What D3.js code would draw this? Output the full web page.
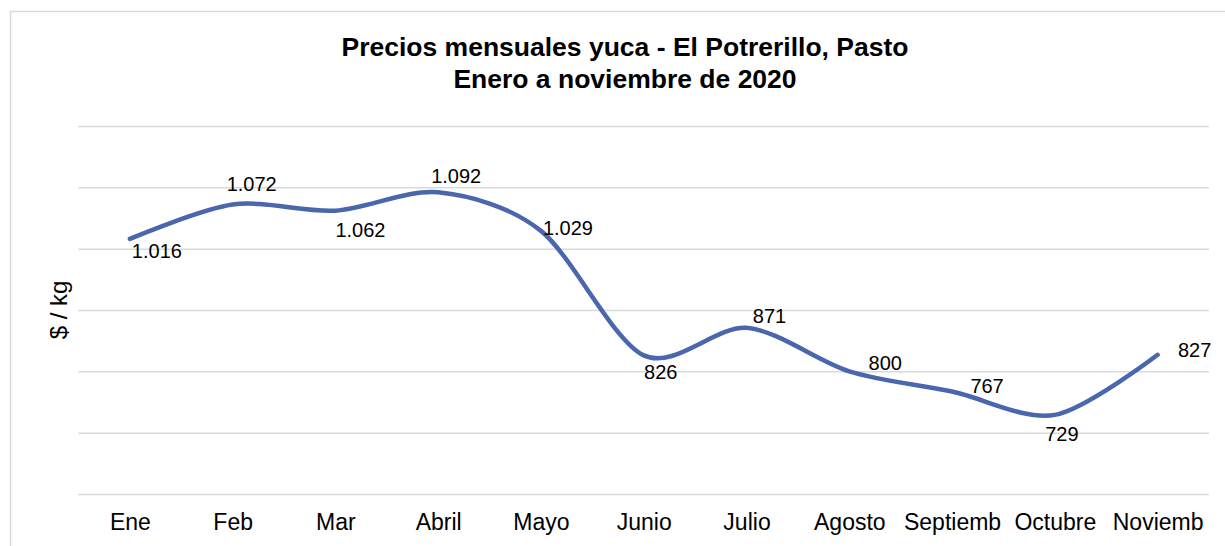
<!DOCTYPE html>
<html>
<head>
<meta charset="utf-8">
<script src="https://cdn.jsdelivr.net/npm/d3@7"></script>
<style>
  body { margin: 0; background: #fff; }
  svg { display: block; font-family: "Liberation Sans", Arial, sans-serif; }
</style>
</head>
<body>
<svg id="chart" width="1225" height="546"></svg>
<script>
// Data
const months = ["Ene", "Feb", "Mar", "Abril", "Mayo", "Junio", "Julio", "Agosto", "Septiemb", "Octubre", "Noviemb"];
const prices = [1016, 1072, 1062, 1092, 1029, 826, 871, 800, 767, 729, 827];
const yTicks = [600, 700, 800, 900, 1000, 1100, 1200];
const titleLines = ["Precios mensuales yuca - El Potrerillo, Pasto", "Enero a noviembre de 2020"];

// label nudges (px) relative to each point, as placed in the original
const labelOffsets = [
  [27, 19], [19, -14], [25, 26], [18, -9], [27, 4],
  [17, 24], [23, -5], [36, -1], [35, 1], [7, 26], [37, 2]
];

const margin = { top: 126, right: 16, bottom: 52, left: 78.5 };
const W = 1225, H = 546;
const w = W - margin.left - margin.right;
const h = 494 - margin.top;

const svg = d3.select("#chart");

// outer chart frame
svg.append("rect")
  .attr("x", 10.5).attr("y", 11.5)
  .attr("width", 1240).attr("height", 560)
  .attr("fill", "none")
  .attr("stroke", "#d9d9d9")
  .attr("stroke-width", 1.5);

// title
svg.append("g").selectAll("text")
  .data(titleLines)
  .join("text")
  .attr("x", 625)
  .attr("y", (d, i) => 56 + i * 32)
  .attr("text-anchor", "middle")
  .attr("font-size", "26.5px")
  .attr("font-weight", "bold")
  .attr("fill", "#000")
  .text(d => d);

const g = svg.append("g")
  .attr("transform", `translate(${margin.left},${margin.top})`);

const x = d3.scalePoint()
  .domain(months)
  .range([0, w])
  .padding(0.5);

const y = d3.scaleLinear()
  .domain([600, 1200])
  .range([h, 0]);

// gridlines
g.append("g")
  .call(d3.axisLeft(y).tickValues(yTicks).tickSize(-w).tickFormat(""))
  .call(a => a.select(".domain").remove())
  .call(a => a.selectAll(".tick line")
    .attr("stroke", "#d9d9d9")
    .attr("stroke-width", 1.5));

// x axis labels
g.append("g")
  .attr("transform", `translate(0,${h})`)
  .call(d3.axisBottom(x).tickSize(0).tickPadding(20))
  .call(a => a.select(".domain").remove())
  .call(a => a.selectAll("text")
    .attr("font-family", "Liberation Sans, Arial, sans-serif")
    .attr("font-size", "23px")
    .attr("fill", "#000"));

// y axis title
svg.append("text")
  .attr("transform", "translate(67,310) rotate(-90)")
  .attr("text-anchor", "middle")
  .attr("font-size", "24px")
  .attr("fill", "#000")
  .text("$ / kg");

// line
const line = d3.line()
  .x((d, i) => x(months[i]))
  .y(d => y(d))
  .curve(d3.curveCardinal.tension(0.1));

g.append("path")
  .datum(prices)
  .attr("d", line)
  .attr("fill", "none")
  .attr("stroke", "#4a66ac")
  .attr("stroke-width", 4.5)
  .attr("stroke-linecap", "round");

// data labels
const fmt = v => d3.format(",")(v).replace(/,/g, ".");
g.append("g").selectAll("text")
  .data(prices)
  .join("text")
  .attr("x", (d, i) => x(months[i]) + labelOffsets[i][0])
  .attr("y", (d, i) => y(d) + labelOffsets[i][1])
  .attr("text-anchor", "middle")
  .attr("font-size", "20px")
  .attr("fill", "#000")
  .text(fmt);
</script>
</body>
</html>
